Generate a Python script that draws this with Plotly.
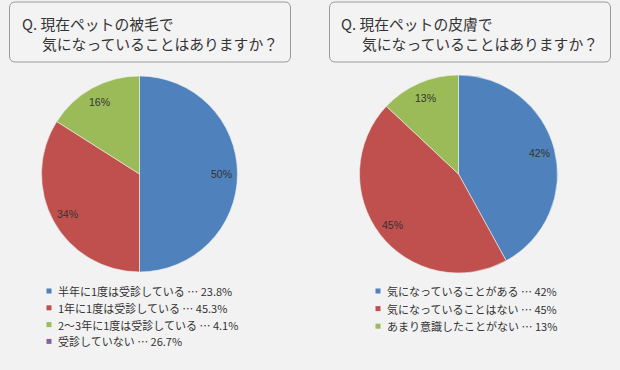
import math
import plotly.graph_objects as go

W, H = 620, 370

# Data
left_labels = ["気にならない", "気になる", "どちらでもない"]
left_values = [50, 34, 16]
right_labels = ["気になっていることがある", "気になっていることはない", "あまり意識したことがない"]
right_values = [42, 45, 13]

left_title = ["Q. 現在ペットの被毛で", "気になっていることはありますか？"]
right_title = ["Q. 現在ペットの皮膚で", "気になっていることはありますか？"]

left_legend = ["半年に1度は受診している ⋯ 23.8%", "1年に1度は受診している ⋯ 45.3%",
               "2～3年に1度は受診している ⋯ 4.1%", "受診していない ⋯ 26.7%"]
right_legend = ["気になっていることがある ⋯ 42%", "気になっていることはない ⋯ 45%",
                "あまり意識したことがない ⋯ 13%"]

colors = ["#4F81BD", "#C0504D", "#9BBB59", "#8064A2"]
FONT = "Noto Sans CJK JP"


def px(x):
    return x / W


def py(y):
    return 1 - y / H


annotations = []
shapes = []


def pie(values, labels, cx, cy, r):
    # percentage labels placed near the outer edge of each slice (like the original)
    total = sum(values)
    cum = 0
    for v in values:
        mid = (cum + v / 2) / total * 2 * math.pi
        cum += v
        lx = cx + 0.84 * r * math.sin(mid)
        ly = cy - 0.84 * r * math.cos(mid)
        annotations.append(dict(text=f"{round(v / total * 100)}%", x=px(lx), y=py(ly),
                                xref="paper", yref="paper", showarrow=False,
                                xanchor="center", yanchor="middle",
                                font=dict(family="Arial, Liberation Sans", size=10.5,
                                          color="#333333")))
    return go.Pie(
        values=values, labels=labels, sort=False, direction="clockwise", rotation=0,
        marker=dict(colors=colors[:len(values)], line=dict(color="#f0f0f0", width=0.6)),
        textinfo="none",
        domain=dict(x=[px(cx - r), px(cx + r)], y=[py(cy + r), py(cy - r)]),
        showlegend=False, hoverinfo="label+percent",
    )


fig = go.Figure()
fig.add_trace(pie(left_values, left_labels, 139.5, 174, 98))
fig.add_trace(pie(right_values, right_labels, 458.5, 174, 99))


def rounded_box(x0, y0, x1, y1, r=6):
    X0, X1 = px(x0), px(x1)
    Y0, Y1 = py(y0), py(y1)
    rx, ry = r / W, r / H
    path = (f"M {X0+rx},{Y0} L {X1-rx},{Y0} Q {X1},{Y0} {X1},{Y0-ry} "
            f"L {X1},{Y1+ry} Q {X1},{Y1} {X1-rx},{Y1} L {X0+rx},{Y1} "
            f"Q {X0},{Y1} {X0},{Y1+ry} L {X0},{Y0-ry} Q {X0},{Y0} {X0+rx},{Y0} Z")
    return dict(type="path", path=path, xref="paper", yref="paper",
                line=dict(color="#9a9a9a", width=1), fillcolor="#f3f3f3", layer="below")


shapes += [rounded_box(9.5, 2, 290.5, 62), rounded_box(329.5, 2, 610.5, 62)]


def title(lines, x1, x2):
    annotations.append(dict(text=lines[0], x=px(x1), y=py(23), xref="paper", yref="paper",
                            xanchor="left", yanchor="middle", showarrow=False,
                            font=dict(family=FONT, size=14.8, color="#333333")))
    annotations.append(dict(text=lines[1], x=px(x2), y=py(43), xref="paper", yref="paper",
                            xanchor="left", yanchor="middle", showarrow=False,
                            font=dict(family=FONT, size=14.8, color="#333333")))


title(left_title, 20, 40)
title(right_title, 339, 360)


def legend(items, sq_x, tx, y0, dy):
    for i, t in enumerate(items):
        y = y0 + i * dy
        shapes.append(dict(type="rect", xref="paper", yref="paper",
                           x0=px(sq_x - 2.5), x1=px(sq_x + 2.5), y0=py(y + 2.5), y1=py(y - 2.5),
                           fillcolor=colors[i], line=dict(width=0)))
        annotations.append(dict(text=t, x=px(tx), y=py(y), xref="paper", yref="paper",
                                xanchor="left", yanchor="middle", showarrow=False,
                                font=dict(family=FONT, size=11, color="#333333")))


legend(left_legend, 49, 56, 291, 16.8)
legend(right_legend, 378, 385, 291, 17.6)

fig.update_layout(
    width=W, height=H, margin=dict(l=0, r=0, t=0, b=0),
    paper_bgcolor="#f2f2f2", plot_bgcolor="#f2f2f2",
    shapes=shapes, annotations=annotations,
)

fig.write_html("out.html", config={"displayModeBar": False},
               post_script="document.body.style.margin='0';")
